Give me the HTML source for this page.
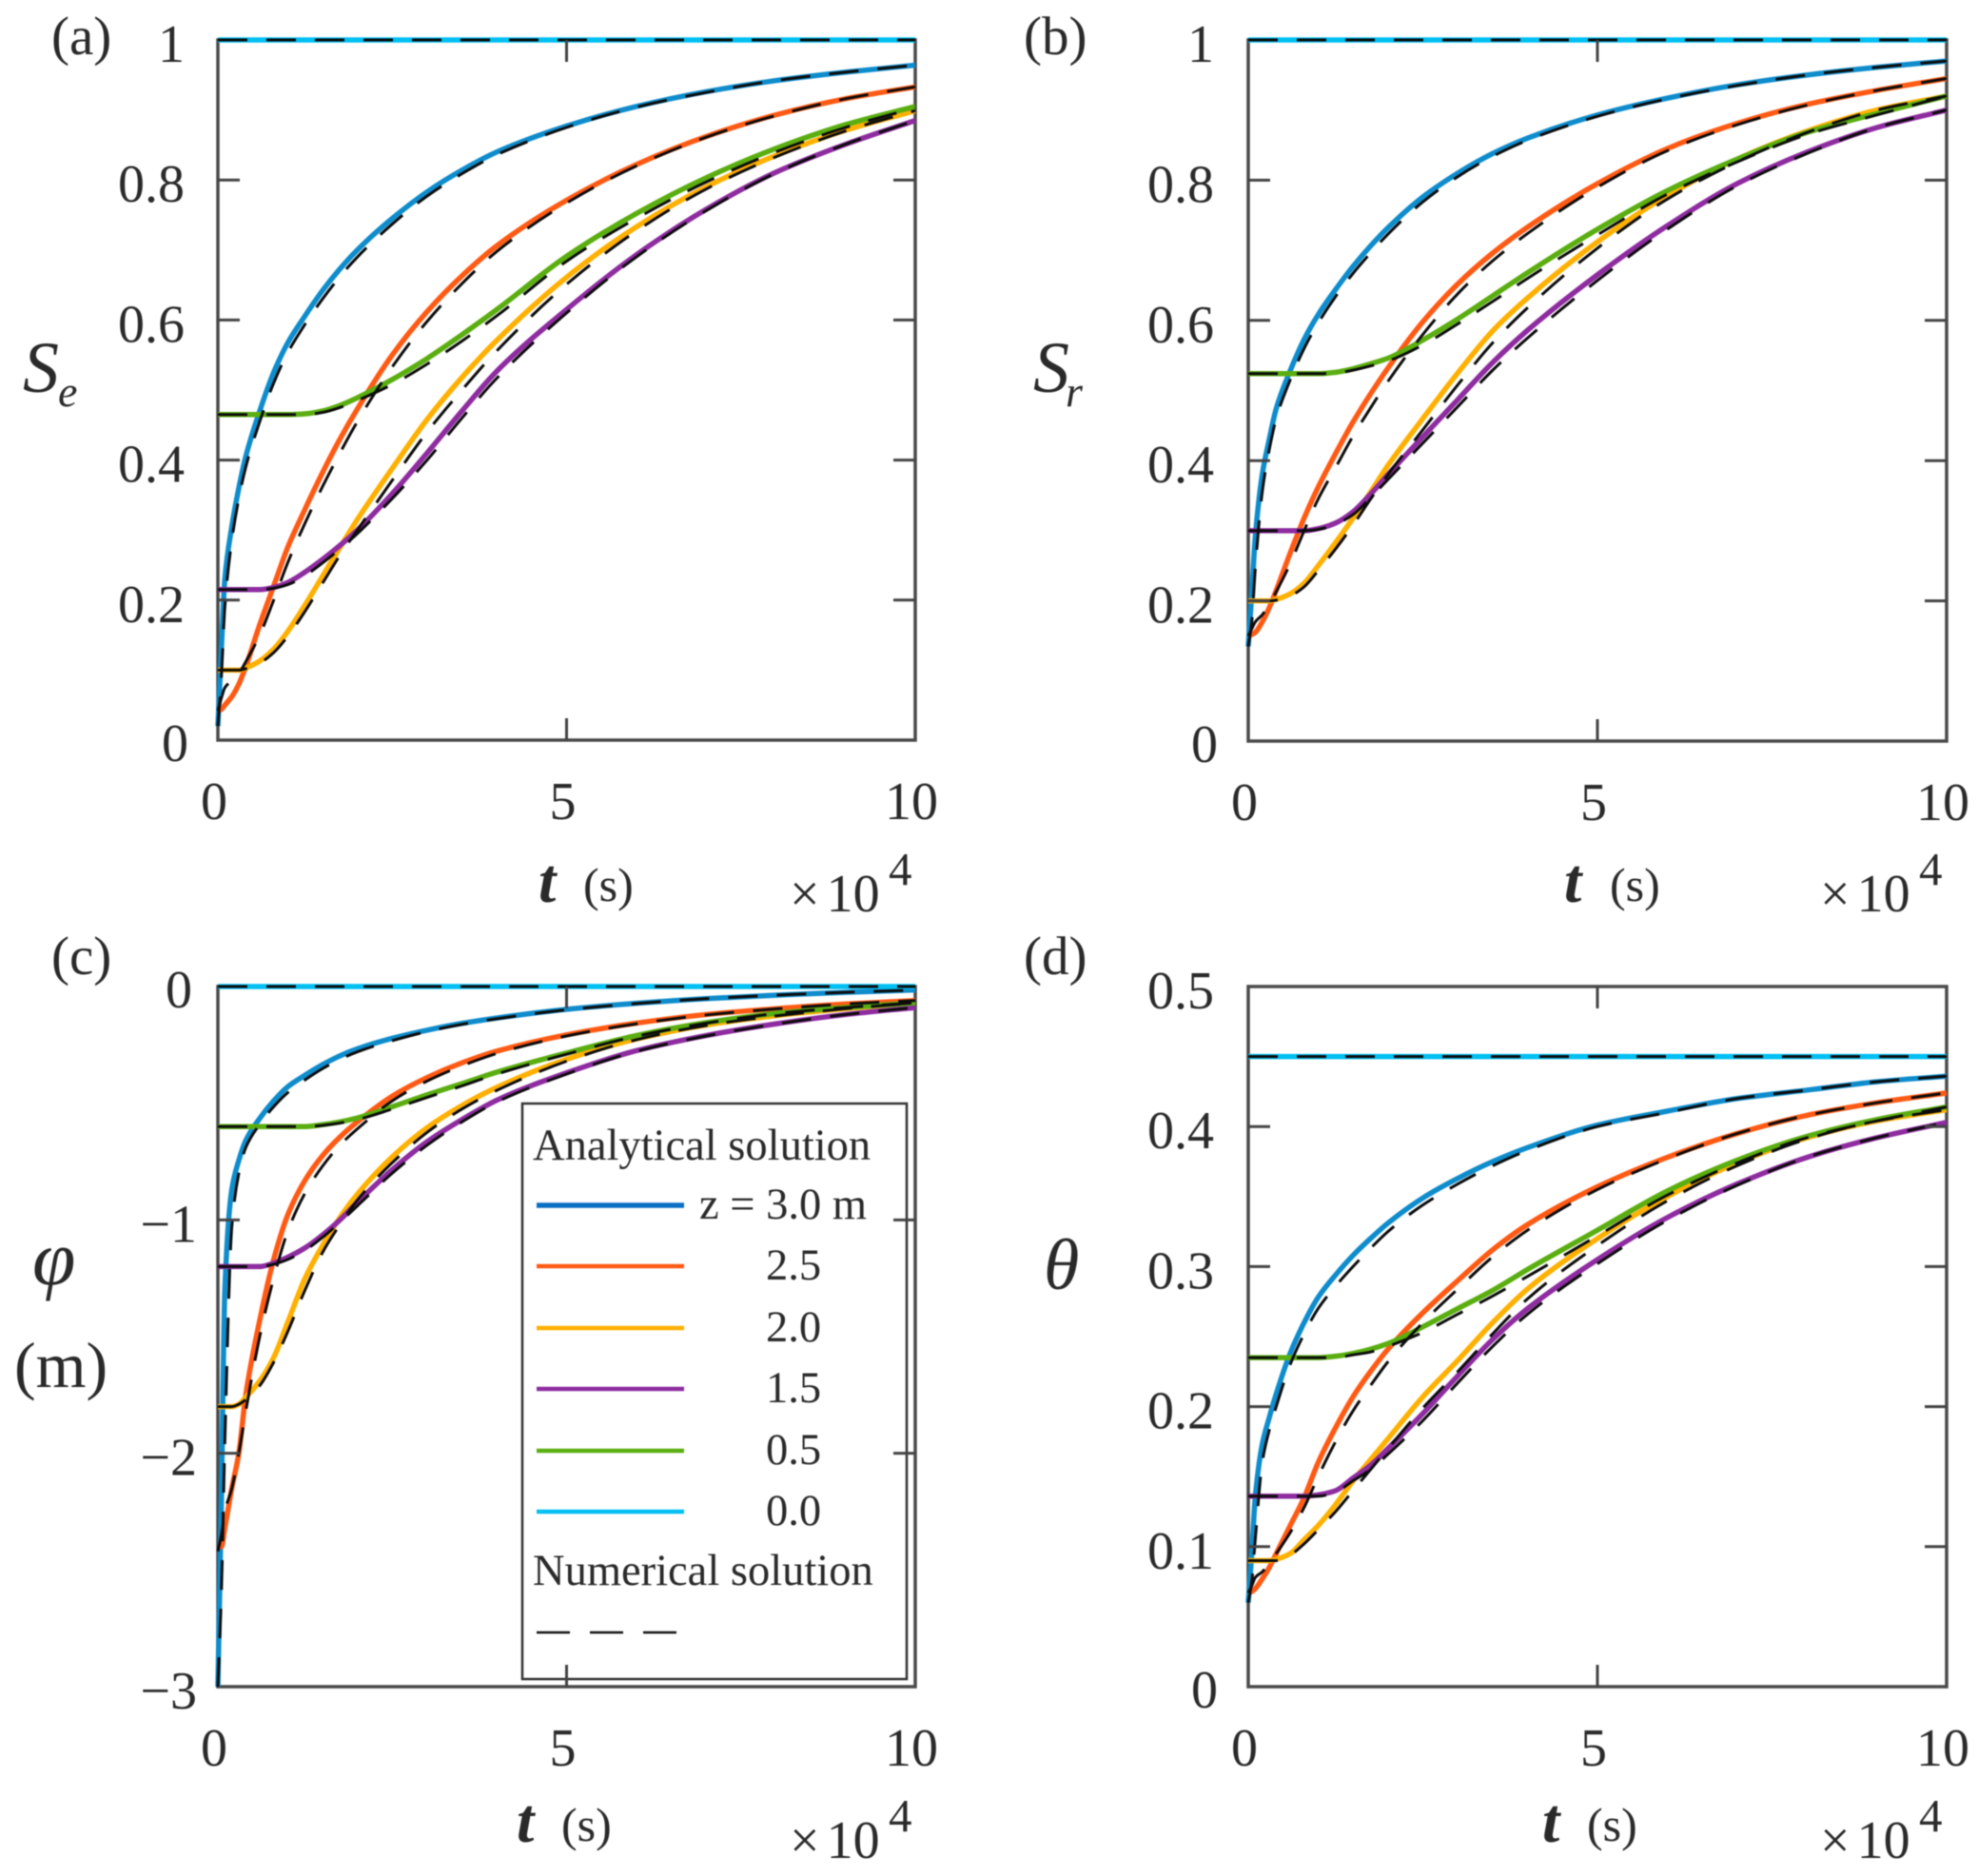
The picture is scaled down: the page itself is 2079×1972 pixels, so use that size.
<!DOCTYPE html>
<html lang="en">
<head>
<meta charset="utf-8">
<title>Infiltration solution comparison</title>
<style>
html,body{margin:0;padding:0;background:#fff;}
svg{display:block;font-family:"Liberation Serif",serif;fill:#2a2a2a;filter:blur(0.5px);}
</style>
</head>
<body>
<svg id="figure" xmlns="http://www.w3.org/2000/svg" width="2079" height="1972" viewBox="0 0 2079 1972">
  <rect width="2079" height="1972" fill="#fff"/>

  <g id="frames"></g>
  <g id="curves"></g>

  <g>
    <rect x="549" y="1160" width="404" height="605" fill="#fff" stroke="#333" stroke-width="2.5"/>
    <text x="560" y="1219" font-size="46.5">Analytical solution</text>
    <line x1="564" x2="719" y1="1267" y2="1267" stroke="#0a70c4" stroke-width="5.5"/>
    <text x="735" y="1281" font-size="46.5">z = 3.0 m</text>
    <line x1="564" x2="719" y1="1331" y2="1331" stroke="#ff5a14" stroke-width="4.5"/>
    <text x="805" y="1345" font-size="46.5">2.5</text>
    <line x1="564" x2="719" y1="1396" y2="1396" stroke="#ffb000" stroke-width="4.5"/>
    <text x="805" y="1410" font-size="46.5">2.0</text>
    <line x1="564" x2="719" y1="1460" y2="1460" stroke="#8e2ca0" stroke-width="4.5"/>
    <text x="805" y="1474" font-size="46.5">1.5</text>
    <line x1="564" x2="719" y1="1525" y2="1525" stroke="#5aae10" stroke-width="4.5"/>
    <text x="805" y="1539" font-size="46.5">0.5</text>
    <line x1="564" x2="719" y1="1589" y2="1589" stroke="#00bff2" stroke-width="4.5"/>
    <text x="805" y="1603" font-size="46.5">0.0</text>
    <text x="560" y="1666" font-size="46.5">Numerical solution</text>
    <line x1="564" x2="711" y1="1716" y2="1716" stroke="#111" stroke-width="2.5" stroke-dasharray="35 21"/>
  </g>

  <g id="ticks"></g>

  <g font-size="57">
    <text x="54" y="57">(a)</text>
    <text x="1076" y="57">(b)</text>
    <text x="54" y="1024">(c)</text>
    <text x="1076" y="1024">(d)</text>
  </g>

  <g>
    <text x="24" y="412" font-size="76" font-style="italic">S</text>
    <text x="61" y="427" font-size="46" font-style="italic">e</text>
    <text x="1086" y="412" font-size="76" font-style="italic">S</text>
    <text x="1120" y="427" font-size="46" font-style="italic">r</text>
    <text x="34" y="1350" font-size="82" font-style="italic">φ</text>
    <text x="15" y="1458" font-size="68">(m)</text>
    <text x="1097" y="1355" font-size="76" font-style="italic">θ</text>
  </g>

  <g>
    <text x="566" y="948" font-size="66" font-style="italic" font-weight="bold">t</text>
    <text x="613" y="947" font-size="50">(s)</text>
    <text x="830" y="958" font-size="56">×<tspan dx="7">10</tspan></text>
    <text x="934" y="930" font-size="49">4</text>

    <text x="1644" y="948" font-size="66" font-style="italic" font-weight="bold">t</text>
    <text x="1692" y="947" font-size="50">(s)</text>
    <text x="1913" y="958" font-size="56">×<tspan dx="7">10</tspan></text>
    <text x="2017" y="930" font-size="49">4</text>

    <text x="543" y="1936" font-size="66" font-style="italic" font-weight="bold">t</text>
    <text x="590" y="1935" font-size="50">(s)</text>
    <text x="830" y="1953" font-size="56">×<tspan dx="7">10</tspan></text>
    <text x="934" y="1925" font-size="49">4</text>

    <text x="1621" y="1936" font-size="66" font-style="italic" font-weight="bold">t</text>
    <text x="1668" y="1935" font-size="50">(s)</text>
    <text x="1913" y="1953" font-size="56">×<tspan dx="7">10</tspan></text>
    <text x="2017" y="1925" font-size="49">4</text>
  </g>
</svg>

<script>
// Time samples, in units of 10^4 s
var timeValues = [0,.05,.1,.2,.3,.4,.6,.8,1,1.25,1.5,1.75,2,2.5,3,3.5,4,5,6,7,8,9,10];
var xTickValues = [0,5,10];
var xTickLabels = ['0','5','10'];

// Panel (a) Se
var seTicks = [0,.2,.4,.6,.8,1];
var seTickLabels = ['0','0.2','0.4','0.6','0.8','1'];
var seZ30 = [.02,.13,.23,.305,.36,.405,.47,.525,.567,.606,.642,.673,.70,.745,.783,.814,.84,.877,.905,.926,.942,.954,.964];
var seZ25 = [.042,.044,.05,.062,.08,.105,.165,.22,.275,.33,.382,.43,.473,.55,.612,.663,.706,.771,.822,.862,.893,.916,.933];
var seZ20 = [.1,.1,.1,.1,.1,.103,.113,.13,.155,.193,.234,.275,.315,.388,.458,.518,.571,.661,.733,.79,.835,.871,.899];
var seZ15 = [.215,.215,.215,.215,.215,.215,.215,.218,.225,.24,.258,.278,.30,.352,.41,.47,.527,.615,.693,.758,.811,.851,.885];
var seZ05 = [.465,.465,.465,.465,.465,.465,.465,.465,.465,.466,.47,.478,.489,.515,.545,.579,.615,.691,.752,.803,.845,.879,.905];
var seZ00 = [1,1,1,1,1,1,1,1,1,1,1,1,1,1,1,1,1,1,1,1,1,1,1];
var seNumZ30 = [.02,.09,.19,.285,.345,.39,.455,.51,.553,.594,.63,.662,.69,.737,.777,.809,.836,.875,.904,.925,.942,.954,.964];
var seNumZ25 = [.042,.06,.075,.085,.095,.112,.15,.2,.253,.31,.362,.41,.455,.533,.598,.652,.698,.767,.82,.861,.892,.916,.933];
var seNumZ20 = [.1,.1,.1,.1,.1,.102,.11,.125,.148,.184,.224,.264,.3,.371,.44,.5,.556,.651,.727,.787,.833,.87,.899];
var seNumZ15 = [.215,.215,.215,.215,.215,.215,.215,.217,.222,.235,.253,.273,.295,.345,.40,.46,.517,.61,.69,.756,.81,.851,.885];
var seNumZ05 = [.465,.465,.465,.465,.465,.465,.465,.465,.465,.465,.468,.475,.485,.508,.537,.57,.606,.684,.745,.797,.84,.875,.903];
var seNumZ00 = [1,1,1,1,1,1,1,1,1,1,1,1,1,1,1,1,1,1,1,1,1,1,1];

// Panel (b) Sr
var srTicks = [0,.2,.4,.6,.8,1];
var srTickLabels = ['0','0.2','0.4','0.6','0.8','1'];
var srZ30 = [.135,.21,.29,.38,.43,.474,.528,.573,.608,.644,.677,.706,.732,.776,.81,.838,.86,.893,.917,.936,.95,.961,.97];
var srZ25 = [.15,.152,.155,.17,.19,.215,.268,.318,.362,.41,.455,.495,.532,.598,.652,.696,.733,.795,.845,.881,.908,.928,.945];
var srZ20 = [.2,.2,.2,.2,.2,.202,.21,.225,.25,.283,.318,.355,.393,.46,.525,.585,.632,.712,.778,.83,.87,.90,.92];
var srZ15 = [.3,.3,.3,.3,.3,.3,.3,.3,.303,.311,.327,.352,.38,.434,.487,.54,.586,.665,.735,.795,.84,.875,.90];
var srZ05 = [.524,.524,.524,.524,.524,.524,.524,.524,.524,.526,.531,.538,.546,.572,.602,.635,.668,.73,.785,.83,.868,.895,.92];
var srZ00 = [1,1,1,1,1,1,1,1,1,1,1,1,1,1,1,1,1,1,1,1,1,1,1];
var srNumZ30 = [.135,.17,.245,.355,.415,.46,.515,.56,.596,.634,.667,.696,.723,.769,.805,.834,.857,.891,.916,.935,.95,.961,.97];
var srNumZ25 = [.15,.16,.17,.18,.195,.213,.253,.3,.345,.39,.435,.475,.513,.58,.638,.685,.724,.79,.842,.879,.907,.928,.945];
var srNumZ20 = [.2,.2,.2,.2,.2,.201,.207,.22,.243,.274,.308,.345,.38,.444,.508,.568,.618,.703,.773,.826,.868,.90,.92];
var srNumZ15 = [.3,.3,.3,.3,.3,.3,.3,.3,.302,.309,.323,.347,.373,.425,.477,.529,.575,.657,.73,.792,.838,.875,.90];
var srNumZ05 = [.524,.524,.524,.524,.524,.524,.524,.524,.524,.525,.529,.535,.542,.565,.595,.627,.66,.722,.78,.826,.865,.893,.92];
var srNumZ00 = [1,1,1,1,1,1,1,1,1,1,1,1,1,1,1,1,1,1,1,1,1,1,1];

// Panel (c) pressure head
var phiTicks = [-3,-2,-1,0];
var phiTickLabels = ['\u22123','\u22122','\u22121','0'];
var phiZ30 = [-3,-2.2,-1.3,-.87,-.745,-.66,-.565,-.49,-.43,-.38,-.335,-.297,-.267,-.222,-.187,-.158,-.135,-.098,-.072,-.052,-.037,-.025,-.015];
var phiZ25 = [-2.4,-2.4,-2.32,-2.15,-2,-1.75,-1.43,-1.17,-.98,-.83,-.725,-.645,-.58,-.47,-.39,-.327,-.277,-.207,-.157,-.12,-.095,-.075,-.06];
var phiZ20 = [-1.8,-1.8,-1.8,-1.8,-1.79,-1.76,-1.69,-1.59,-1.44,-1.25,-1.11,-.99,-.89,-.73,-.605,-.51,-.432,-.312,-.225,-.165,-.125,-.095,-.07];
var phiZ15 = [-1.2,-1.2,-1.2,-1.2,-1.2,-1.2,-1.2,-1.185,-1.16,-1.12,-1.065,-1,-.925,-.785,-.665,-.57,-.487,-.37,-.275,-.21,-.16,-.12,-.09];
var phiZ05 = [-.6,-.6,-.6,-.6,-.6,-.6,-.6,-.6,-.6,-.6,-.592,-.58,-.563,-.515,-.464,-.416,-.367,-.285,-.21,-.155,-.115,-.09,-.07];
var phiZ00 = [0,0,0,0,0,0,0,0,0,0,0,0,0,0,0,0,0,0,0,0,0,0,0];
var phiNumZ30 = [-3,-2.6,-1.95,-1.03,-.8,-.69,-.59,-.515,-.455,-.40,-.352,-.312,-.28,-.232,-.193,-.162,-.138,-.1,-.073,-.052,-.037,-.025,-.015];
var phiNumZ25 = [-2.42,-2.35,-2.25,-2.15,-2,-1.82,-1.5,-1.25,-1.05,-.885,-.77,-.68,-.61,-.49,-.405,-.34,-.287,-.212,-.16,-.122,-.096,-.075,-.06];
var phiNumZ20 = [-1.8,-1.8,-1.8,-1.8,-1.79,-1.77,-1.71,-1.61,-1.48,-1.3,-1.14,-1.02,-.915,-.755,-.625,-.525,-.445,-.32,-.228,-.167,-.126,-.095,-.07];
var phiNumZ15 = [-1.2,-1.2,-1.2,-1.2,-1.2,-1.2,-1.2,-1.19,-1.17,-1.13,-1.075,-1.01,-.94,-.8,-.68,-.58,-.495,-.375,-.278,-.212,-.161,-.12,-.09];
var phiNumZ05 = [-.6,-.6,-.6,-.6,-.6,-.6,-.6,-.6,-.6,-.6,-.595,-.585,-.57,-.525,-.475,-.426,-.375,-.29,-.213,-.157,-.116,-.09,-.07];
var phiNumZ00 = [0,0,0,0,0,0,0,0,0,0,0,0,0,0,0,0,0,0,0,0,0,0,0];

// Panel (d) theta
var thetaTicks = [0,.1,.2,.3,.4,.5];
var thetaTickLabels = ['0','0.1','0.2','0.3','0.4','0.5'];
var thetaZ30 = [.06,.095,.135,.173,.192,.209,.238,.26,.278,.294,.308,.32,.331,.349,.363,.375,.385,.401,.411,.42,.426,.432,.436];
var thetaZ25 = [.067,.068,.07,.077,.085,.095,.115,.135,.16,.185,.207,.225,.241,.267,.29,.312,.33,.357,.378,.395,.408,.417,.424];
var thetaZ20 = [.09,.09,.09,.09,.09,.091,.095,.105,.115,.13,.147,.162,.177,.207,.233,.26,.284,.32,.35,.374,.392,.404,.412];
var thetaZ15 = [.136,.136,.136,.136,.136,.136,.136,.136,.137,.14,.149,.158,.17,.195,.222,.248,.27,.305,.335,.359,.378,.392,.403];
var thetaZ05 = [.235,.235,.235,.235,.235,.235,.235,.235,.235,.236,.238,.241,.245,.257,.27,.283,.298,.326,.354,.376,.393,.405,.414];
var thetaZ00 = [.45,.45,.45,.45,.45,.45,.45,.45,.45,.45,.45,.45,.45,.45,.45,.45,.45,.45,.45,.45,.45,.45,.45];
var thetaNumZ30 = [.06,.075,.105,.16,.183,.2,.23,.252,.27,.286,.30,.313,.325,.344,.359,.372,.383,.40,.41,.42,.426,.432,.436];
var thetaNumZ25 = [.067,.072,.078,.082,.088,.095,.11,.128,.15,.175,.197,.215,.232,.26,.284,.307,.326,.355,.377,.395,.408,.417,.424];
var thetaNumZ20 = [.09,.09,.09,.09,.09,.09,.094,.102,.112,.125,.14,.155,.17,.199,.225,.252,.277,.315,.347,.372,.391,.404,.412];
var thetaNumZ15 = [.136,.136,.136,.136,.136,.136,.136,.136,.136,.139,.147,.155,.166,.19,.217,.243,.266,.302,.333,.358,.378,.392,.403];
var thetaNumZ05 = [.235,.235,.235,.235,.235,.235,.235,.235,.235,.235,.237,.239,.243,.253,.266,.279,.293,.322,.351,.374,.392,.404,.414];
var thetaNumZ00 = [.45,.45,.45,.45,.45,.45,.45,.45,.45,.45,.45,.45,.45,.45,.45,.45,.45,.45,.45,.45,.45,.45,.45];

var seriesKeys = ['z30','z25','z20','z15','z05','z00'];
var seriesColors = ['#0e8ccc','#ff5a14','#ffb000','#8e2ca0','#5aae10','#00bff2'];

var panels = [
  {id:'a',left:229,right:962,top:42,bottom:778,yMin:0,yMax:1,ticks:seTicks,labels:seTickLabels,labelX:194,zeroShift:4,
   analytical:[seZ30,seZ25,seZ20,seZ15,seZ05,seZ00],numerical:[seNumZ30,seNumZ25,seNumZ20,seNumZ15,seNumZ05,seNumZ00]},
  {id:'b',left:1312,right:2046,top:42,bottom:779,yMin:0,yMax:1,ticks:srTicks,labels:srTickLabels,labelX:1276,zeroShift:4,
   analytical:[srZ30,srZ25,srZ20,srZ15,srZ05,srZ00],numerical:[srNumZ30,srNumZ25,srNumZ20,srNumZ15,srNumZ05,srNumZ00]},
  {id:'c',left:229,right:962,top:1037,bottom:1773,yMin:-3,yMax:0,ticks:phiTicks,labels:phiTickLabels,labelX:207,zeroShift:-5,
   analytical:[phiZ30,phiZ25,phiZ20,phiZ15,phiZ05,phiZ00],numerical:[phiNumZ30,phiNumZ25,phiNumZ20,phiNumZ15,phiNumZ05,phiNumZ00]},
  {id:'d',left:1312,right:2046,top:1037,bottom:1773,yMin:0,yMax:.5,ticks:thetaTicks,labels:thetaTickLabels,labelX:1276,zeroShift:4,
   analytical:[thetaZ30,thetaZ25,thetaZ20,thetaZ15,thetaZ05,thetaZ00],numerical:[thetaNumZ30,thetaNumZ25,thetaNumZ20,thetaNumZ15,thetaNumZ05,thetaNumZ00]}
];

var NS = 'http://www.w3.org/2000/svg';
var frameLayer = document.getElementById('frames');
var curveLayer = document.getElementById('curves');
var tickLayer = document.getElementById('ticks');
var TICK_LEN = 23;

function xScale(p, t){ return p.left + (t / 10) * (p.right - p.left); }
function yScale(p, v){ return p.bottom - (v - p.yMin) / (p.yMax - p.yMin) * (p.bottom - p.top); }

// Monotone cubic path through the scaled samples
function curvePath(p, values){
  var xs = timeValues.map(function(t){ return xScale(p, t); });
  var ys = values.map(function(v){ return yScale(p, v); });
  var n = xs.length, d = [], m = [], i;
  for(i = 0; i < n - 1; i++){ d.push((ys[i+1] - ys[i]) / (xs[i+1] - xs[i])); }
  m.push(d[0]);
  for(i = 1; i < n - 1; i++){
    if(d[i-1] * d[i] <= 0){ m.push(0); }
    else {
      var h0 = xs[i] - xs[i-1], h1 = xs[i+1] - xs[i];
      m.push(3 * (h0 + h1) / ((2 * h1 + h0) / d[i-1] + (h1 + 2 * h0) / d[i]));
    }
  }
  m.push(d[n-2]);
  var s = 'M' + xs[0].toFixed(2) + ' ' + ys[0].toFixed(2);
  for(i = 0; i < n - 1; i++){
    var h = (xs[i+1] - xs[i]) / 3;
    s += 'C' + (xs[i] + h).toFixed(2) + ' ' + (ys[i] + m[i] * h).toFixed(2) + ' ' +
         (xs[i+1] - h).toFixed(2) + ' ' + (ys[i+1] - m[i+1] * h).toFixed(2) + ' ' +
         xs[i+1].toFixed(2) + ' ' + ys[i+1].toFixed(2);
  }
  return s;
}

function tickLine(x1, y1, x2, y2){
  var line = document.createElementNS(NS, 'line');
  line.setAttribute('x1', x1);
  line.setAttribute('y1', y1);
  line.setAttribute('x2', x2);
  line.setAttribute('y2', y2);
  line.setAttribute('stroke', '#444');
  line.setAttribute('stroke-width', '3');
  
  
  tickLayer.appendChild(line);
}

panels.forEach(function(p){
  var frame = document.createElementNS(NS, 'rect');
  frame.setAttribute('x', p.left);
  frame.setAttribute('y', p.top);
  frame.setAttribute('width', p.right - p.left);
  frame.setAttribute('height', p.bottom - p.top);
  frame.setAttribute('fill', 'none');
  frame.setAttribute('stroke', '#4a4a4a');
  frame.setAttribute('stroke-width', '3.5');
  
  
  frameLayer.appendChild(frame);

  xTickValues.forEach(function(t, i){
    var x = xScale(p, t);
    if(i === 1){
      tickLine(x, p.bottom, x, p.bottom - TICK_LEN);
      tickLine(x, p.top, x, p.top + TICK_LEN);
    }
    var label = document.createElementNS(NS, 'text');
    label.setAttribute('x', x - 4);
    label.setAttribute('y', p.bottom + 83);
    label.setAttribute('text-anchor', 'middle');
    label.setAttribute('font-size', '56');
    label.textContent = xTickLabels[i];
    
    
    tickLayer.appendChild(label);
  });

  p.ticks.forEach(function(v, i){
    var y = yScale(p, v);
    if(i > 0 && i < p.ticks.length - 1){
      tickLine(p.left, y, p.left + TICK_LEN, y);
      tickLine(p.right, y, p.right - TICK_LEN, y);
    }
    var label = document.createElementNS(NS, 'text');
    label.setAttribute('x', p.labelX + (p.labels[i] === '0' ? p.zeroShift : 0));
    label.setAttribute('y', y + (p.labels[i] === '0' ? 22 : 23));
    label.setAttribute('text-anchor', 'end');
    label.setAttribute('font-size', '56');
    label.textContent = p.labels[i];
    
    
    tickLayer.appendChild(label);
  });

  p.analytical.forEach(function(values, i){
    var path = document.createElementNS(NS, 'path');
    path.setAttribute('d', curvePath(p, values));
    path.setAttribute('fill', 'none');
    path.setAttribute('stroke', seriesColors[i]);
    path.setAttribute('stroke-width', '5.5');
    
    
    curveLayer.appendChild(path);
  });

  p.numerical.forEach(function(values, i){
    var path = document.createElementNS(NS, 'path');
    path.setAttribute('d', curvePath(p, values));
    path.setAttribute('fill', 'none');
    path.setAttribute('stroke', '#0c0c0c');
    path.setAttribute('stroke-width', '3');
    path.setAttribute('stroke-dasharray', '31 20');
    
    
    curveLayer.appendChild(path);
  });
});
</script>
</body>
</html>
